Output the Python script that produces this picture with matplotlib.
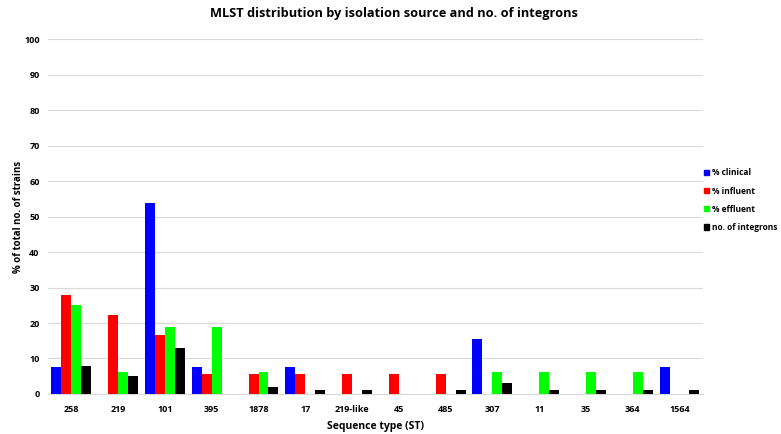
import matplotlib
matplotlib.use("Agg")
import matplotlib.pyplot as plt
import numpy as np
from matplotlib.patches import Patch

categories = ["258", "219", "101", "395", "1878", "17", "219-like", "45", "485", "307", "11", "35", "364", "1564"]
clinical = [7.7, 0, 53.8, 7.7, 0, 7.7, 0, 0, 0, 15.4, 0, 0, 0, 7.7]
influent = [27.8, 22.2, 16.7, 5.6, 5.6, 5.6, 5.6, 5.6, 5.6, 0, 0, 0, 0, 0]
effluent = [25.0, 6.2, 18.8, 18.8, 6.2, 0, 0, 0, 0, 6.2, 6.2, 6.2, 6.2, 0]
integrons = [8, 5, 13, 0, 2, 1, 1, 0, 1, 3, 1, 1, 1, 1]
series_names = ["% clinical", "% influent", "% effluent", "no. of integrons"]
colors = ["#0000FF", "#FF0000", "#00FF00", "#000000"]

plt.rcParams['font.family'] = ['Open Sans', 'DejaVu Sans']

fig = plt.figure(figsize=(7.81, 4.34), dpi=100)
ax = fig.add_axes([0.0615, 0.0922, 0.8385, 0.8178])

x = np.arange(len(categories))
w = 0.213
for i, (vals, c) in enumerate(zip([clinical, influent, effluent, integrons], colors)):
    ax.bar(x + (i - 1.5) * w, vals, width=w, color=c, zorder=3)

ax.set_xlim(-0.5, len(categories) - 0.5)
ax.set_ylim(0, 100)
ax.set_yticks(np.arange(0, 101, 10))
ax.set_xticks(x)
ax.set_xticklabels(categories, fontsize=6.5, fontweight='bold')
for lab in ax.get_yticklabels():
    lab.set_fontsize(6.5)
    lab.set_fontweight('bold')
ax.tick_params(axis='x', length=0, pad=8)
ax.tick_params(axis='y', length=0, pad=6)
ax.grid(axis='y', color='#d9d9d9', linewidth=0.8, zorder=0)
for s in ['top', 'right', 'left']:
    ax.spines[s].set_visible(False)
ax.spines['bottom'].set_color('#d9d9d9')
ax.set_ylabel("% of total no. of strains", fontsize=7, fontweight='bold', labelpad=0)
ax.set_xlabel("Sequence type (ST)", fontsize=7.5, fontweight='bold', labelpad=5)
fig.suptitle("MLST distribution by isolation source and no. of integrons", x=0.505, y=0.985,
             fontsize=9.2, fontweight='bold', color='black')

handles = [Patch(color=c, label=n) for c, n in zip(colors, series_names)]
leg = fig.legend(handles=handles, loc='upper left', bbox_to_anchor=(0.901, 0.612),
                 frameon=False, fontsize=6, handlelength=0.6, handleheight=0.6,
                 handletextpad=0.4, labelspacing=1.1, borderaxespad=0, borderpad=0)
for t in leg.get_texts():
    t.set_fontweight('bold')

fig.savefig("out.png", dpi=100)
